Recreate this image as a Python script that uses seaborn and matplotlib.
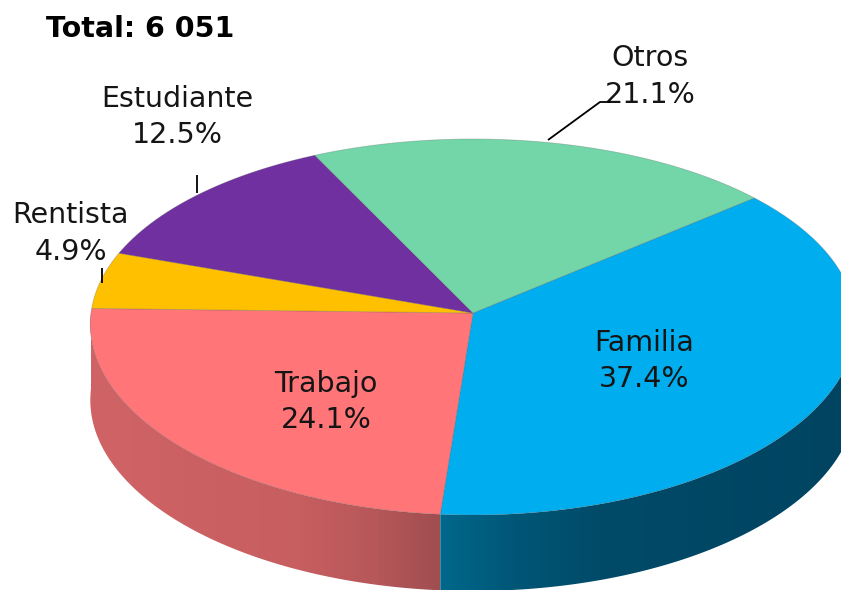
import numpy as np
import matplotlib
matplotlib.use("Agg")
import matplotlib.pyplot as plt
import matplotlib.transforms as mtransforms
from matplotlib.path import Path
from matplotlib.patches import Polygon
import seaborn as sns

# ---------------- data ----------------
categories = ["Familia", "Trabajo", "Rentista", "Estudiante", "Otros"]
values = [37.4, 24.1, 4.9, 12.5, 21.1]
total_label = "Total: 6 051"
colors = ["#00AEEF", "#FF7578", "#FFC000", "#7030A0", "#72D6A8"]

# ---------------- layout ----------------
W, H = 841, 590
CX, CY, RX, RY = 473, 313, 382, 188
K = 14        # vertical perspective bulge
KX = 0.06     # horizontal perspective widening toward viewer
DEPTH = 76

sns.set_theme(style="white")
plt.rcParams["font.family"] = ["DejaVu Sans"]


def project(u, v):
    u = np.asarray(u, float)
    v = np.asarray(v, float)
    X = CX + RX * u * (1 - KX * v)
    Y = CY - RY * v + K * v ** 2
    return X, Y


class Perspective(mtransforms.Transform):
    input_dims = 2
    output_dims = 2
    is_separable = False

    def transform_non_affine(self, values):
        a = np.asarray(values, float).reshape(-1, 2)
        X, Y = project(a[:, 0], a[:, 1])
        return np.column_stack([X, Y])

    def transform_path_non_affine(self, path):
        polys = path.to_polygons(mtransforms.Affine2D().scale(1000.0))
        paths = [Path(self.transform_non_affine(np.asarray(p) / 1000.0), closed=True)
                 for p in polys]
        return Path.make_compound_path(*paths)


fig = plt.figure(figsize=(W / 100, H / 100), dpi=100)
ax = fig.add_axes([0, 0, 1, 1])
ax.set_axis_off()

wedges, _ = ax.pie(values, colors=colors, startangle=40, counterclock=False,
                   radius=1, center=(0, 0),
                   wedgeprops=dict(linewidth=0.6, edgecolor=(0.35, 0.35, 0.35, 0.3),
                                   zorder=3))
persp = Perspective()
for w in wedges:
    w.set_transform(persp + ax.transData)

# side shading stops (fraction along side, rgb)
side_shades = {
    "Familia": [(0.0, (0, 104, 140)), (0.18, (0, 86, 118)), (0.4, (0, 74, 104)),
                (1.0, (0, 68, 97))],
    "Trabajo": [(0.0, (208, 99, 101)), (0.6, (199, 94, 96)), (0.82, (182, 87, 89)),
                (1.0, (160, 78, 80))],
    "Rentista": [(0.0, (200, 150, 0)), (1.0, (170, 128, 0))],
    "Estudiante": [(0.0, (88, 38, 126)), (1.0, (70, 30, 100))],
    "Otros": [(0.0, (90, 170, 133)), (1.0, (70, 140, 110))],
}


def side_polygon(a, b):
    t = np.radians(np.linspace(a, b, 160))
    xt, yt = project(np.cos(t), np.sin(t))
    xs = np.concatenate([xt, xt[::-1]])
    ys = np.concatenate([yt, (yt + DEPTH)[::-1]])
    return np.column_stack([xs, ys])


for w, cat in zip(wedges, categories):
    t1, t2 = w.theta1, w.theta2
    for off in (-360, 0, 360):
        a = max(t1, -180 + off)
        b = min(t2, 0 + off)
        if b <= a:
            continue
        poly = side_polygon(a, b)
        xmin, xmax = poly[:, 0].min(), poly[:, 0].max()
        ymin, ymax = poly[:, 1].min(), poly[:, 1].max()
        stops = side_shades[cat]
        fr = np.linspace(0, 1, 300)
        sf = [s[0] for s in stops]
        img = np.zeros((1, 300, 3))
        for ch in range(3):
            img[0, :, ch] = np.interp(fr, sf, [s[1][ch] / 255 for s in stops])
        patch = Polygon(poly, closed=True, transform=ax.transData,
                        facecolor="none", edgecolor="none")
        im = ax.imshow(img, extent=(xmin, xmax, ymax, ymin), aspect="auto",
                       interpolation="bilinear", zorder=1)
        im.set_clip_path(patch)

# ---------------- labels ----------------
label_pos = {
    "Familia": (644, 351, 387),
    "Trabajo": (326, 392, 428),
    "Rentista": (71, 223, 260),
    "Estudiante": (177, 107, 143),
    "Otros": (650, 66, 103),
}
for cat, v in zip(categories, values):
    x, y1, y2 = label_pos[cat]
    ax.text(x, y1, cat, ha="center", va="baseline", fontsize=20.5,
            fontweight="normal", color="#151515", zorder=6)
    ax.text(x, y2, f"{v:.1f}%", ha="center", va="baseline", fontsize=20.5,
            fontweight="normal", color="#151515", zorder=6)

leaders = [
    ([548, 600, 610], [140, 102, 102]),
    ([197, 197], [175, 193]),
    ([102, 102], [268, 283]),
]
for xs, ys in leaders:
    ax.plot(xs, ys, color="black", lw=1.3, zorder=6, solid_capstyle="butt")

ax.text(46, 37, total_label, ha="left", va="baseline", fontsize=20.5,
        fontweight="bold", family=["DejaVu Sans"], color="black",
        zorder=6)

ax.set_xlim(0, W)
ax.set_ylim(H, 0)
ax.set_aspect("auto")

fig.savefig("out.png", dpi=100)
